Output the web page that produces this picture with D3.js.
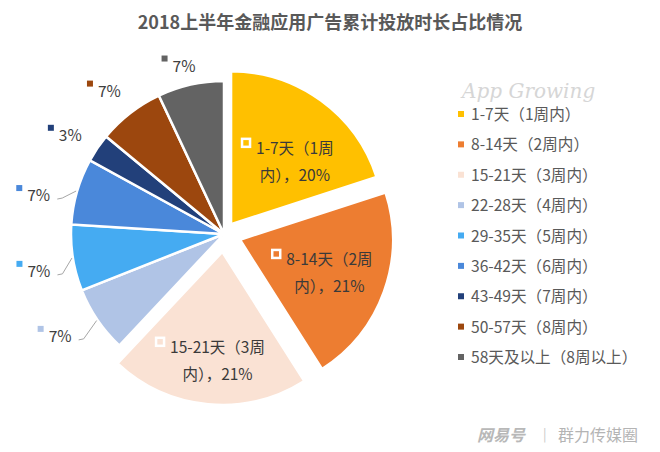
<!DOCTYPE html>
<html><head><meta charset="utf-8">
<script src="https://cdn.jsdelivr.net/npm/d3@7"></script>
<style>html,body{margin:0;padding:0;background:#fff;}svg{display:block;}</style>
</head><body>
<script>
const categories = ["1-7天（1周内）","8-14天（2周内）","15-21天（3周内）","22-28天（4周内）","29-35天（5周内）","36-42天（6周内）","43-49天（7周内）","50-57天（8周内）","58天及以上（8周以上）"];
const insideLine1 = ["1-7天（1周","8-14天（2周","15-21天（3周"];
const insideLine2 = ["内），20%","内），21%","内），21%"];
const values = [20, 21, 21, 7, 7, 7, 3, 7, 7];
const title = "2018上半年金融应用广告累计投放时长占比情况";

const colors = ["#FFC000","#ED7D31","#FAE2D4","#B0C4E6","#45ABF2","#4A88DA","#22407A","#9C470E","#636363"];
const explode = [12, 17, 18, 0, 0, 0, 0, 0, 0];

const W = 660, H = 452, cx = 224, cy = 234, R = 153;
const svg = d3.select("body").append("svg").attr("width", W).attr("height", H);
const font = "'Noto Sans CJK SC','Microsoft YaHei',sans-serif";

svg.append("text").attr("x", 330).attr("y", 29).attr("text-anchor","middle")
  .attr("font-family", font).attr("font-size", 18).attr("font-weight","bold")
  .attr("fill","#595959").text(title);

const pie = d3.pie().sort(null).value(d => d);
const arcs = pie(values);
const arc = d3.arc().innerRadius(0).outerRadius(R);
const g = svg.append("g").attr("transform", `translate(${cx},${cy})`);

function off(d, r) { const a = (d.startAngle + d.endAngle) / 2; return [Math.sin(a) * r, -Math.cos(a) * r]; }

g.selectAll("path.slice").data(arcs).join("path").attr("class","slice")
  .attr("d", arc)
  .attr("transform", (d,i) => { const o = off(d, explode[i]); return `translate(${o[0]},${o[1]})`; })
  .attr("fill", (d,i) => colors[i]).attr("stroke","#fff").attr("stroke-width", 2.5);

// inside labels for big slices
const labR = [90, 95, 108];
const labAdj = [0.16, 0, -0.05];
arcs.slice(0,3).forEach((d,i) => {
  const a = (d.startAngle + d.endAngle)/2 + labAdj[i];
  const o = off(d, explode[i]);
  const x = o[0] + Math.sin(a)*labR[i], y = o[1] - Math.cos(a)*labR[i];
  const lg = g.append("g").attr("transform", `translate(${x},${y})`);
  const t1 = lg.append("text").attr("x", 0).attr("y", -7).attr("text-anchor","middle")
    .attr("font-family", font).attr("font-size", 15.5).attr("fill","#3a3a3a").text(insideLine1[i]);
  lg.append("text").attr("x", 0).attr("y", 20).attr("text-anchor","middle")
    .attr("font-family", font).attr("font-size", 15.5).attr("fill","#3a3a3a").text(insideLine2[i]);
  const bb = t1.node().getBBox();
  lg.append("rect").attr("x", bb.x - 14).attr("y", -22).attr("width", 8).attr("height", 8)
    .attr("fill", colors[i]).attr("stroke","#fff").attr("stroke-width", 2.5);
});

// outside labels for small slices
const outR = [0, 0, 0, 192, 188, 189, 183, 184, 174];
const outAdj = [0, 0, 0, 2.5, -2, -4, -1, -0.5, -0.5];
const leaders = [false,false,false,true,true,true,false,false,false];
arcs.forEach((d,i) => {
  if (i < 3) return;
  const a = (d.startAngle + d.endAngle)/2 + outAdj[i] * Math.PI / 180;
  const x = Math.sin(a)*outR[i], y = -Math.cos(a)*outR[i];
  const lg = g.append("g").attr("transform", `translate(${x},${y})`);
  lg.append("rect").attr("x", -23).attr("y", -9).attr("width", 6).attr("height", 6).attr("fill", colors[i]);
  lg.append("text").attr("x", -12).attr("y", 7).attr("font-family", font).attr("font-size", 15.5)
    .attr("fill","#404040").text(d3.format(".0f")(d.data) + "%");
  if (leaders[i]) {
    const am = (d.startAngle + d.endAngle)/2;
    const p1 = [Math.sin(am)*(R+1), -Math.cos(am)*(R+1)];
    const p2 = [x + 18, y + 5];
    g.append("path").attr("d", `M${p1[0]},${p1[1]}L${p2[0]+5},${p2[1]-1}L${p2[0]},${p2[1]}`)
      .attr("fill","none").attr("stroke","#a6a6a6").attr("stroke-width",1);
  }
});

// watermark
svg.append("text").attr("x", 462).attr("y", 98).attr("font-family","'DejaVu Serif',serif")
  .attr("font-style","italic").attr("font-size", 20).attr("fill","#d6d6d6").text("App Growing");

// legend
const legY = d3.scalePoint().domain(categories).range([114, 357]);
const leg = svg.append("g");
categories.forEach((c,i) => {
  leg.append("rect").attr("x", 458).attr("y", legY(c) - 3).attr("width", 6).attr("height", 6).attr("fill", colors[i]);
  leg.append("text").attr("x", 471).attr("y", legY(c) + 6).attr("font-family", font).attr("font-size", 15.6)
    .attr("fill","#595959").text(c);
});

// footer
svg.append("text").attr("x", 477).attr("y", 441).attr("font-family", font).attr("font-size", 16)
  .attr("font-weight","bold").attr("font-style","italic").attr("fill","#b8b8b8").text("网易号");
svg.append("text").attr("x", 543).attr("y", 439).attr("font-family", font).attr("font-size", 13)
  .attr("fill","#c8c8c8").text("|");
svg.append("text").attr("x", 558).attr("y", 441).attr("font-family", font).attr("font-size", 16)
  .attr("fill","#b4b4b4").text("群力传媒圈");
</script>
</body></html>
